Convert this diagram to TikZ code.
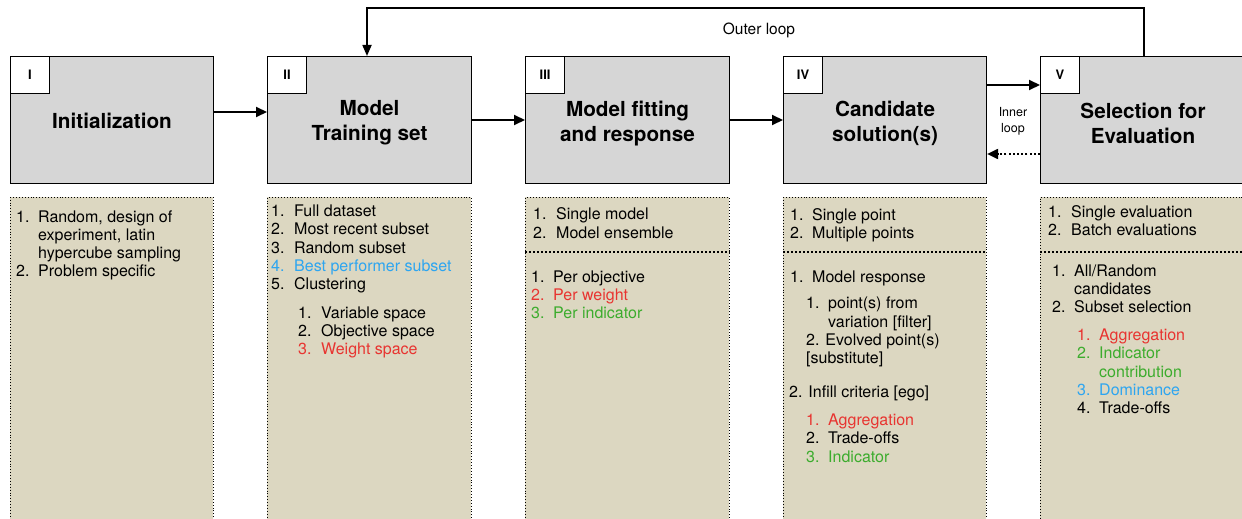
\documentclass[tikz,border=0pt]{standalone}
\usepackage{fontspec}
\setmainfont{TeX Gyre Heros}
\usetikzlibrary{arrows.meta}
\definecolor{hdr}{RGB}{214,214,214}
\definecolor{lst}{RGB}{220,215,193}
\definecolor{cred}{RGB}{232,52,48}
\definecolor{cgreen}{RGB}{60,172,45}
\definecolor{cblue}{RGB}{45,165,240}
\newcommand\nb[2]{\makebox[#1pt][l]{#2}}
\begin{document}
\begin{tikzpicture}[x=1pt,y=-1pt,
  hdrbox/.style={draw, line width=1.1pt, fill=hdr, minimum height=127pt, anchor=north west, inner sep=0pt},
  lblbox/.style={draw, line width=1.1pt, fill=white, minimum width=39pt, minimum height=37pt, anchor=north west, inner sep=0pt, font=\bfseries\fontsize{13}{14}\selectfont},
  ttl/.style={align=center, font=\bfseries\fontsize{20.7}{25}\selectfont},
  lowbox/.style={draw, line width=0.9pt, dotted, fill=lst, minimum height=340pt, anchor=north west, inner sep=0pt},
  sepline/.style={line width=1.8pt, dash pattern=on 1.8pt off 2.2pt},
  itm/.style={anchor=base west, inner sep=0pt, font=\fontsize{16}{18}\selectfont},
  arr/.style={line width=2pt, -{Triangle[length=11pt,width=10pt]}},
  loopline/.style={line width=1.7pt, -{Triangle[length=11pt,width=9pt]}},
  dotarr/.style={line width=2pt, dash pattern=on 2pt off 2.2pt, -{Triangle[length=11pt,width=10pt]}},
  note/.style={align=center, inner sep=0pt}]
\useasboundingbox (0,0) rectangle (1242,519);
\fill[white] (0,0) rectangle (1242,519);

% header boxes
\node[hdrbox, minimum width=203pt] (hI) at (10,56) {};
\node[hdrbox, minimum width=204pt] (hII) at (267,56) {};
\node[hdrbox, minimum width=204pt] (hIII) at (525,56) {};
\node[hdrbox, minimum width=203pt] (hIV) at (783,56) {};
\node[hdrbox, minimum width=205pt] (hV) at (1040,56) {};

\node[lblbox] (lbI) at (hI.north west) {I};
\node[lblbox] (lbII) at (hII.north west) {II};
\node[lblbox] (lbIII) at (hIII.north west) {III};
\node[lblbox] (lbIV) at (hIV.north west) {IV};
\node[lblbox] (lbV) at (hV.north west) {V};

\node[ttl] (tI) at ([yshift=-1pt]hI.center) {Initialization};
\node[ttl] (tII) at ([yshift=-3pt]hII.center) {Model\\Training set};
\node[ttl] (tIII) at ([yshift=-3pt]hIII.center) {Model fitting\\and response};
\node[ttl] (tIV) at ([yshift=-3pt]hIV.center) {Candidate\\solution(s)};
\node[ttl] (tV) at ([yshift=-3pt]hV.center) {Selection for\\Evaluation};

% arrows between headers
\draw[arr] (hI.east |- 0,112) -- (hII.west |- 0,112);
\draw[arr] (hII.east |- 0,120) -- (hIII.west |- 0,120);
\draw[arr] (hIII.east |- 0,120) -- (hIV.west |- 0,120);
\draw[arr] (hIV.east |- 0,85) -- (hV.west |- 0,85);
\draw[dotarr] (hV.west |- 0,154) -- (hIV.east |- 0,154);
\node[note, font=\fontsize{12.5}{16}\selectfont] (inner) at (1013,121) {Inner\\loop};

% outer loop
\coordinate (oR) at (1144,8);
\coordinate (oL) at (367,8);
\draw[loopline] (hV.north -| oR) -- (oR) -- (oL) -- (hII.north -| oL);
\node[note, font=\fontsize{15.5}{16}\selectfont] (outer) at (759,30) {Outer loop};

% lower boxes
\node[lowbox, minimum width=203pt] (lI) at (10,197) {};
\node[lowbox, minimum width=204pt] (lII) at (267,197) {};
\node[lowbox, minimum width=204pt] (lIII) at (525,197) {};
\node[lowbox, minimum width=203pt] (lIV) at (783,197) {};
\node[lowbox, minimum width=205pt] (lV) at (1040,197) {};

\draw[sepline] (lIII.west |- 0,252) -- (lIII.east |- 0,252);
\draw[sepline] (lIV.west |- 0,252) -- (lIV.east |- 0,252);
\draw[sepline] (lV.west |- 0,252) -- (lV.east |- 0,252);

% column I
\node[itm] (a1) at (16,222) {\nb{22}{1.}Random, design of};
\node[itm] (a2) at (38,240) {experiment, latin};
\node[itm] (a3) at (38,258) {hypercube sampling};
\node[itm] (a4) at (16,276) {\nb{22}{2.}Problem specific};

% column II
\node[itm] (b1) at (271,216) {\nb{23}{1.}Full dataset};
\node[itm] (b2) at (271,234) {\nb{23}{2.}Most recent subset};
\node[itm] (b3) at (271,253) {\nb{23}{3.}Random subset};
\node[itm, text=cblue] (b4) at (271,271) {\nb{23}{4.}Best performer subset};
\node[itm] (b5) at (271,289) {\nb{23}{5.}Clustering};
\node[itm] (b6) at (298,318) {\nb{23}{1.}Variable space};
\node[itm] (b7) at (298,336) {\nb{23}{2.}Objective space};
\node[itm, text=cred] (b8) at (298,354) {\nb{23}{3.}Weight space};

% column III
\node[itm] (c1) at (533,219) {\nb{23}{1.}Single model};
\node[itm] (c2) at (533,238) {\nb{23}{2.}Model ensemble};
\node[itm] (c3) at (531,282) {\nb{22}{1.}Per objective};
\node[itm, text=cred] (c4) at (531,300) {\nb{22}{2.}Per weight};
\node[itm, text=cgreen] (c5) at (531,318) {\nb{22}{3.}Per indicator};

% column IV
\node[itm] (d1) at (790,220) {\nb{22}{1.}Single point};
\node[itm] (d2) at (790,238) {\nb{22}{2.}Multiple points};
\node[itm] (d3) at (790,282) {\nb{22}{1.}Model response};
\node[itm] (d4) at (806,308) {\nb{22}{1.}point(s) from};
\node[itm] (d5) at (828,327) {variation [filter]};
\node[itm] (d6) at (806,345) {2. Evolved point(s)};
\node[itm] (d7) at (806,363) {[substitute]};
\node[itm] (d8) at (789,397) {2. Infill criteria [ego]};
\node[itm, text=cred] (d9) at (806,425) {\nb{22}{1.}Aggregation};
\node[itm] (d10) at (806,443) {\nb{22}{2.}Trade-offs};
\node[itm, text=cgreen] (d11) at (806,462) {\nb{22}{3.}Indicator};

% column V
\node[itm] (e1) at (1048,217) {\nb{23}{1.}Single evaluation};
\node[itm] (e2) at (1048,235) {\nb{23}{2.}Batch evaluations};
\node[itm] (e3) at (1052,276) {\nb{22}{1.}All/Random};
\node[itm] (e4) at (1074,294) {candidates};
\node[itm] (e5) at (1052,312) {\nb{22}{2.}Subset selection};
\node[itm, text=cred] (e6) at (1077,340) {\nb{22}{1.}Aggregation};
\node[itm, text=cgreen] (e7) at (1077,358) {\nb{22}{2.}Indicator};
\node[itm, text=cgreen] (e8) at (1099,377) {contribution};
\node[itm, text=cblue] (e9) at (1077,395) {\nb{22}{3.}Dominance};
\node[itm] (e10) at (1077,413) {\nb{22}{4.}Trade-offs};
\end{tikzpicture}
\end{document}
